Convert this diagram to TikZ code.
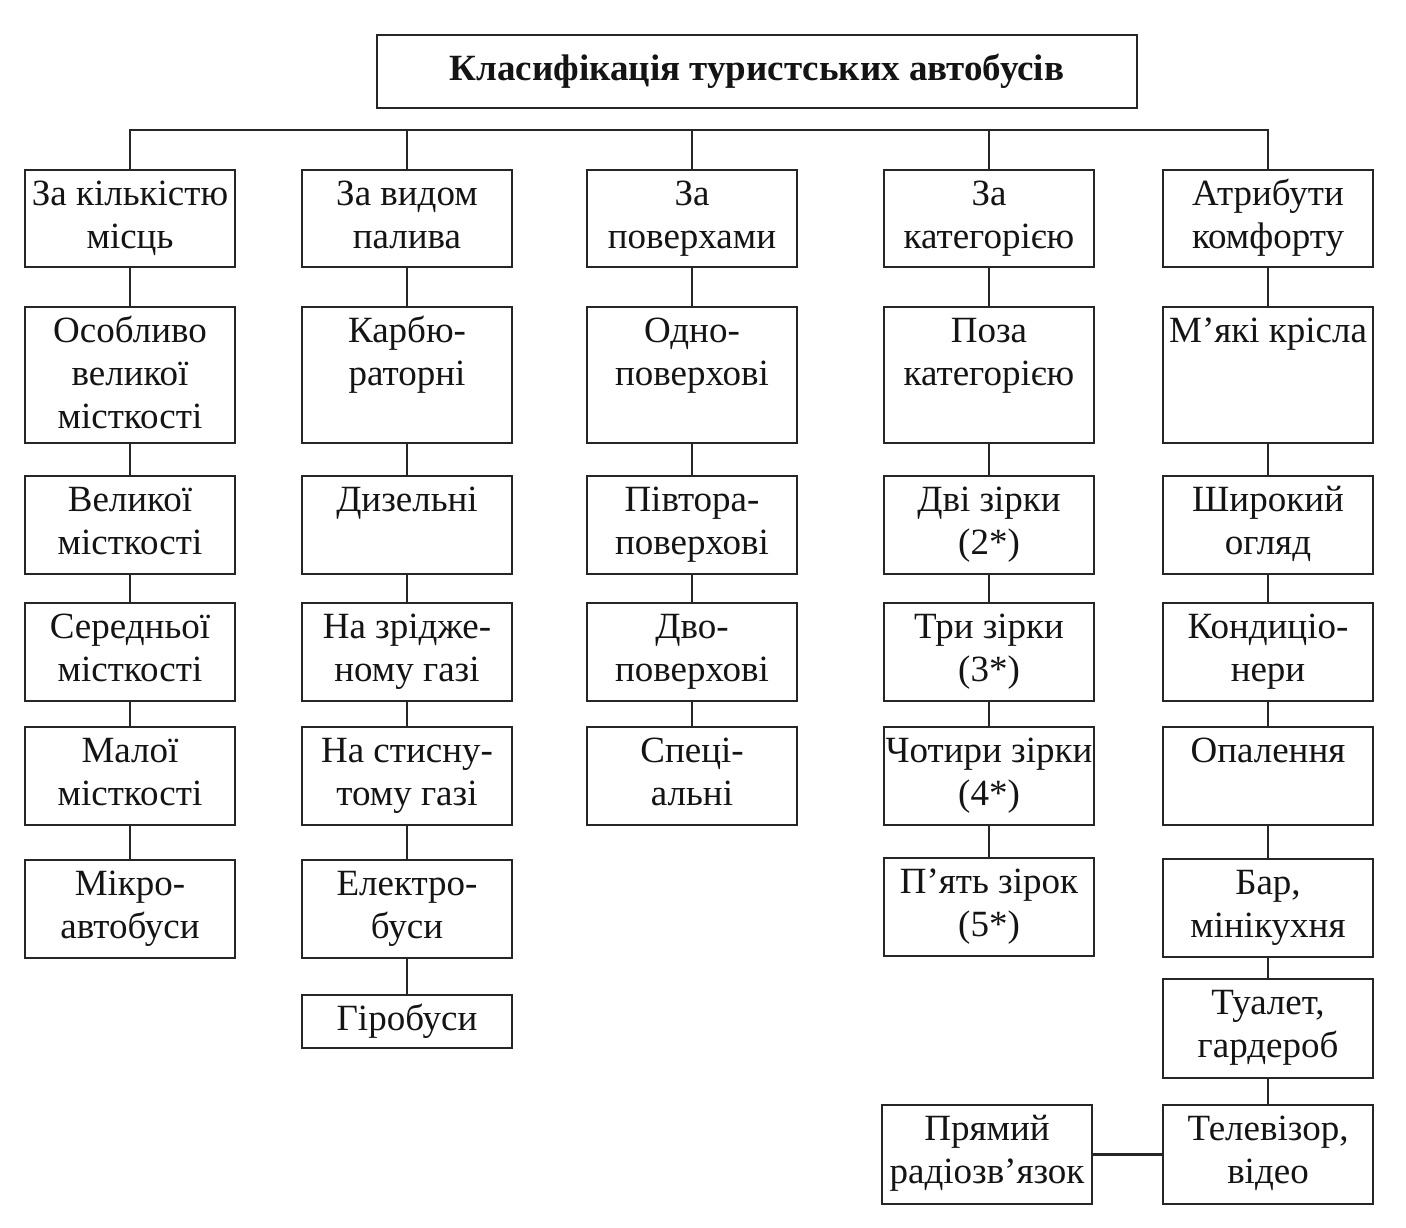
\documentclass[tikz,border=0pt]{standalone}
\usepackage{fontspec}
\setmainfont{Liberation Serif}
\tikzset{
  boxs/.style={draw=black!85, line width=2.6pt, inner sep=0pt, minimum width=210pt},
  txts/.style={inner sep=0pt, anchor=north, align=center, text=black!92,
    font=\fontsize{37}{43}\selectfont},
  conn/.style={draw=black!85, line width=2.6pt},
}
\newcommand{\tbox}[5]{%
  \node[boxs, minimum height={#4-#3}] (#1) at (#2,{(#3+#4)/2}) {};
  \node[txts] (#1t) at (#2,{#3+5.4}) {\strut #5};
}
\begin{document}
\begin{tikzpicture}[x=1pt,y=-1pt]
\useasboundingbox[fill=white] (0,0) rectangle (1406,1228);
% title
\node[boxs, minimum width=760pt, minimum height=73pt, text=black!92,
  font=\fontsize{37}{43}\selectfont\bfseries] (title) at (757,71.5)
  {Класифікація туристських автобусів};
% level 1
\tbox{a1}{130}{170}{267}{За кількістю\\місць}
\tbox{b1}{407}{170}{267}{За видом\\палива}
\tbox{c1}{692}{170}{267}{За\\поверхами}
\tbox{d1}{989}{170}{267}{За\\категорією}
\tbox{e1}{1268}{170}{267}{Атрибути\\комфорту}
% column 1
\tbox{a2}{130}{307}{443}{Особливо\\великої\\місткості}
\tbox{a3}{130}{476}{574}{Великої\\місткості}
\tbox{a4}{130}{603}{701}{Середньої\\місткості}
\tbox{a5}{130}{727}{825}{Малої\\місткості}
\tbox{a6}{130}{860}{958}{Мікро-\\автобуси}
% column 2
\tbox{b2}{407}{307}{443}{Карбю-\\раторні}
\tbox{b3}{407}{476}{574}{Дизельні}
\tbox{b4}{407}{603}{701}{На зрідже-\\ному газі}
\tbox{b5}{407}{727}{825}{На стисну-\\тому газі}
\tbox{b6}{407}{860}{958}{Електро-\\буси}
\tbox{b7}{407}{995}{1048}{Гіробуси}
% column 3
\tbox{c2}{692}{307}{443}{Одно-\\поверхові}
\tbox{c3}{692}{476}{574}{Півтора-\\поверхові}
\tbox{c4}{692}{603}{701}{Дво-\\поверхові}
\tbox{c5}{692}{727}{825}{Спеці-\\альні}
% column 4
\tbox{d2}{989}{307}{443}{Поза\\категорією}
\tbox{d3}{989}{476}{574}{Дві зірки\\(2*)}
\tbox{d4}{989}{603}{701}{Три зірки\\(3*)}
\tbox{d5}{989}{727}{825}{Чотири зірки\\(4*)}
\tbox{d6}{989}{858}{956}{П’ять зірок\\(5*)}
\tbox{d8}{987}{1105}{1204}{Прямий\\радіозв’язок}
% column 5
\tbox{e2}{1268}{307}{443}{М’які крісла}
\tbox{e3}{1268}{476}{574}{Широкий\\огляд}
\tbox{e4}{1268}{603}{701}{Кондиціо-\\нери}
\tbox{e5}{1268}{727}{825}{Опалення}
\tbox{e6}{1268}{859}{957}{Бар,\\мінікухня}
\tbox{e7}{1268}{979}{1078}{Туалет,\\гардероб}
\tbox{e8}{1268}{1105}{1204}{Телевізор,\\відео}
% bus
\coordinate (bus) at (0,130);
\draw[conn] (a1.north) |- (e1.north |- bus) -- (e1.north);
\foreach \n in {b1,c1,d1} \draw[conn] (\n.north) -- (\n.north |- bus);
% vertical chains
\foreach \u/\v in {a1/a2,a2/a3,a3/a4,a4/a5,a5/a6,
                   b1/b2,b2/b3,b3/b4,b4/b5,b5/b6,b6/b7,
                   c1/c2,c2/c3,c3/c4,c4/c5,
                   d1/d2,d2/d3,d3/d4,d4/d5,d5/d6,
                   e1/e2,e2/e3,e3/e4,e4/e5,e5/e6,e6/e7,e7/e8}
  \draw[conn] (\u.south) -- (\v.north);
\draw[conn] (d8.east) -- (e8.west);
\end{tikzpicture}
\end{document}
